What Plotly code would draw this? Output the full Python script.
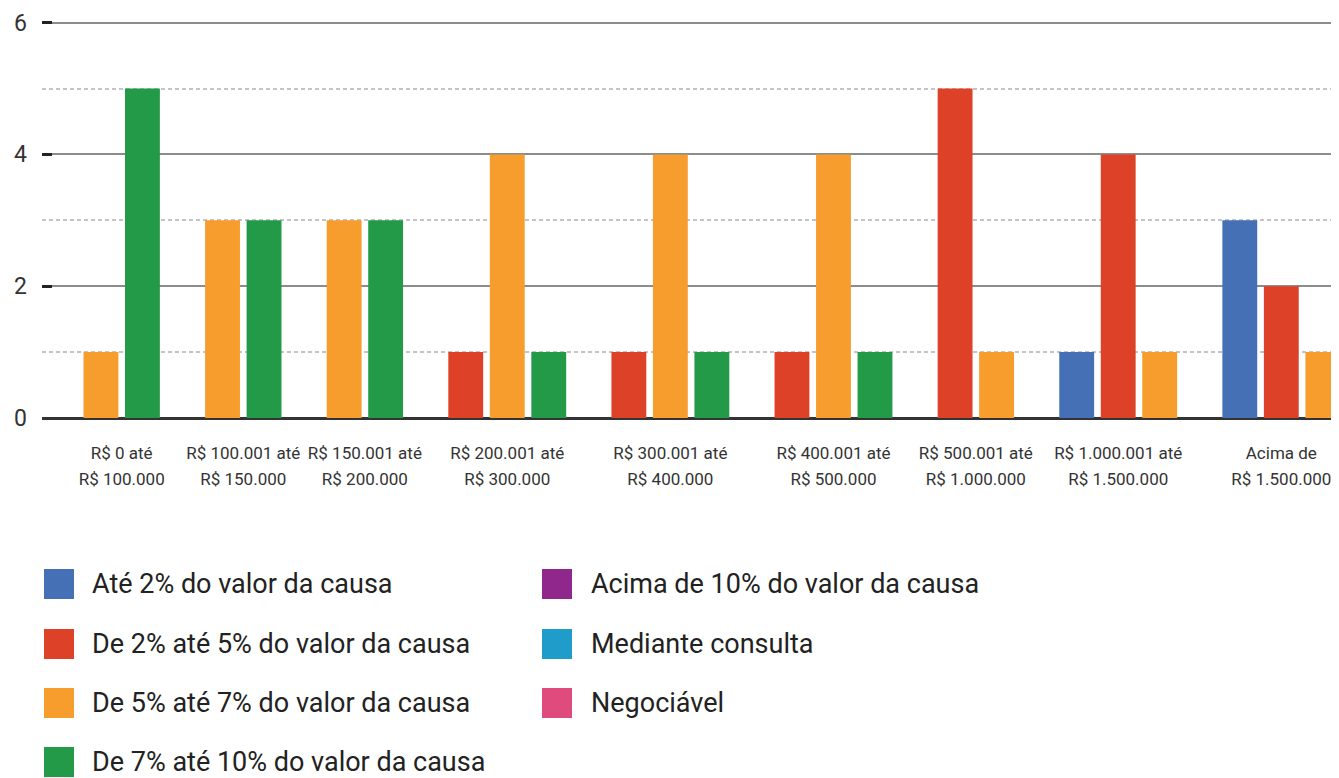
import plotly.graph_objects as go

categories = [
    "R$ 0 até<br>R$ 100.000",
    "R$ 100.001 até<br>R$ 150.000",
    "R$ 150.001 até<br>R$ 200.000",
    "R$ 200.001 até<br>R$ 300.000",
    "R$ 300.001 até<br>R$ 400.000",
    "R$ 400.001 até<br>R$ 500.000",
    "R$ 500.001 até<br>R$ 1.000.000",
    "R$ 1.000.001 até<br>R$ 1.500.000",
    "Acima de<br>R$ 1.500.000",
]

series_names = [
    "Até 2% do valor da causa",
    "De 2% até 5% do valor da causa",
    "De 5% até 7% do valor da causa",
    "De 7% até 10% do valor da causa",
    "Acima de 10% do valor da causa",
    "Mediante consulta",
    "Negociável",
]

ate_2 = [0, 0, 0, 0, 0, 0, 0, 1, 3]
de_2_a_5 = [0, 0, 0, 1, 1, 1, 5, 4, 2]
de_5_a_7 = [1, 3, 3, 4, 4, 4, 1, 1, 1]
de_7_a_10 = [5, 3, 3, 1, 1, 1, 0, 0, 0]
acima_10 = [0, 0, 0, 0, 0, 0, 0, 0, 0]
mediante = [0, 0, 0, 0, 0, 0, 0, 0, 0]
negociavel = [0, 0, 0, 0, 0, 0, 0, 0, 0]

series_values = [ate_2, de_2_a_5, de_5_a_7, de_7_a_10, acima_10, mediante, negociavel]

colors = ["#4570b6", "#dd4127", "#f69d2e", "#229a48", "#8f278d", "#1f9cca", "#e04b7e"]

# ---- layout of slots: only non-zero bars take a slot, groups separated by a gap
BAR_STEP = 1.0
GROUP_GAP = 0.93
BAR_WIDTH = 0.84

trace_x = [[] for _ in series_names]
trace_y = [[] for _ in series_names]
centers = []
pos = 0.0
for ci in range(len(categories)):
    group = []
    for si, vals in enumerate(series_values):
        if vals[ci] != 0:
            trace_x[si].append(pos)
            trace_y[si].append(vals[ci])
            group.append(pos)
            pos += BAR_STEP
    centers.append(sum(group) / len(group))
    pos += GROUP_GAP
last_bar = pos - GROUP_GAP - BAR_STEP

label_line1 = [c.split("<br>")[0] for c in categories]
label_line2 = [c.split("<br>")[1] for c in categories]

fig = go.Figure()
for si, name in enumerate(series_names):
    fig.add_trace(go.Bar(
        x=trace_x[si], y=trace_y[si], name=name,
        marker=dict(color=colors[si], line=dict(width=0)),
        width=BAR_WIDTH, showlegend=False,
    ))

# page has an 8px body margin: figure drawn 8px in from the top-left corner
OFF = 8
W, H = 1339 - OFF, 778 - OFF
Y_TOP = 6.04
ML, MR = 42 - OFF, 0
PH = round(395 / 6 * Y_TOP)
MB = H - (418 - OFF)
MT = H - MB - PH
PW = W - ML - MR

def px_x(p):
    return (p - OFF - ML) / PW

def px_y(p):
    return (H - MB - (p - OFF)) / PH

# ---- custom legend (large square swatches)
shapes = []
annotations = []
col_square_x = [44, 542]
col_text_x = [90, 589]
row_y = [584, 644, 703, 762]
SQ = 30
for i, name in enumerate(series_names):
    col = 0 if i < 4 else 1
    row = i if i < 4 else i - 4
    cy = row_y[row]
    x0 = col_square_x[col]
    shapes.append(dict(
        type="rect", xref="paper", yref="paper",
        x0=px_x(x0), x1=px_x(x0 + SQ), y0=px_y(cy + SQ / 2), y1=px_y(cy - SQ / 2),
        fillcolor=colors[i], line=dict(width=0), layer="above",
    ))
    annotations.append(dict(
        xref="paper", yref="paper", x=px_x(col_text_x[col]), y=px_y(cy),
        xanchor="left", yanchor="middle", showarrow=False, text=name,
        font=dict(family="Roboto", size=27, color="#222222"),
    ))

x_range = [-1.42, last_bar + 0.39]
tick_font = dict(family="Roboto", size=17, color="#333333")

fig.update_layout(
    width=W, height=H,
    margin=dict(l=ML, r=MR, t=MT, b=MB, pad=0),
    paper_bgcolor="white", plot_bgcolor="white",
    barmode="overlay",
    font=dict(family="Roboto", color="#333333"),
    shapes=shapes, annotations=annotations,
    xaxis=dict(
        range=x_range,
        tickmode="array", tickvals=centers, ticktext=label_line1,
        tickfont=tick_font,
        showgrid=False, zeroline=False, showline=False,
        ticks="", ticklabelstandoff=23, fixedrange=True,
    ),
    xaxis2=dict(
        range=x_range, overlaying="x", anchor="y", side="bottom",
        tickmode="array", tickvals=centers, ticktext=label_line2,
        tickfont=tick_font,
        showgrid=False, zeroline=False, showline=False,
        ticks="", ticklabelstandoff=49, fixedrange=True,
    ),
    yaxis=dict(
        range=[0, Y_TOP], tickvals=[0, 2, 4, 6],
        showgrid=True, gridcolor="#8c8c8c", gridwidth=2,
        zeroline=True, zerolinecolor="#333333", zerolinewidth=3,
        ticks="inside", ticklen=10, tickwidth=3, tickcolor="#222222",
        tickfont=dict(family="Roboto", size=23, color="#333333"),
        ticklabelstandoff=14,
        showline=False,
        minor=dict(tickvals=[1, 3, 5], showgrid=True, gridcolor="#c4c4c4", gridwidth=2,
                   griddash="4px,3px"),
    ),
)
# invisible helper trace so that the second label axis is rendered
fig.add_trace(go.Scatter(x=[], y=[], xaxis="x2", yaxis="y", showlegend=False, hoverinfo="skip"))

fig.write_html("out.html")
